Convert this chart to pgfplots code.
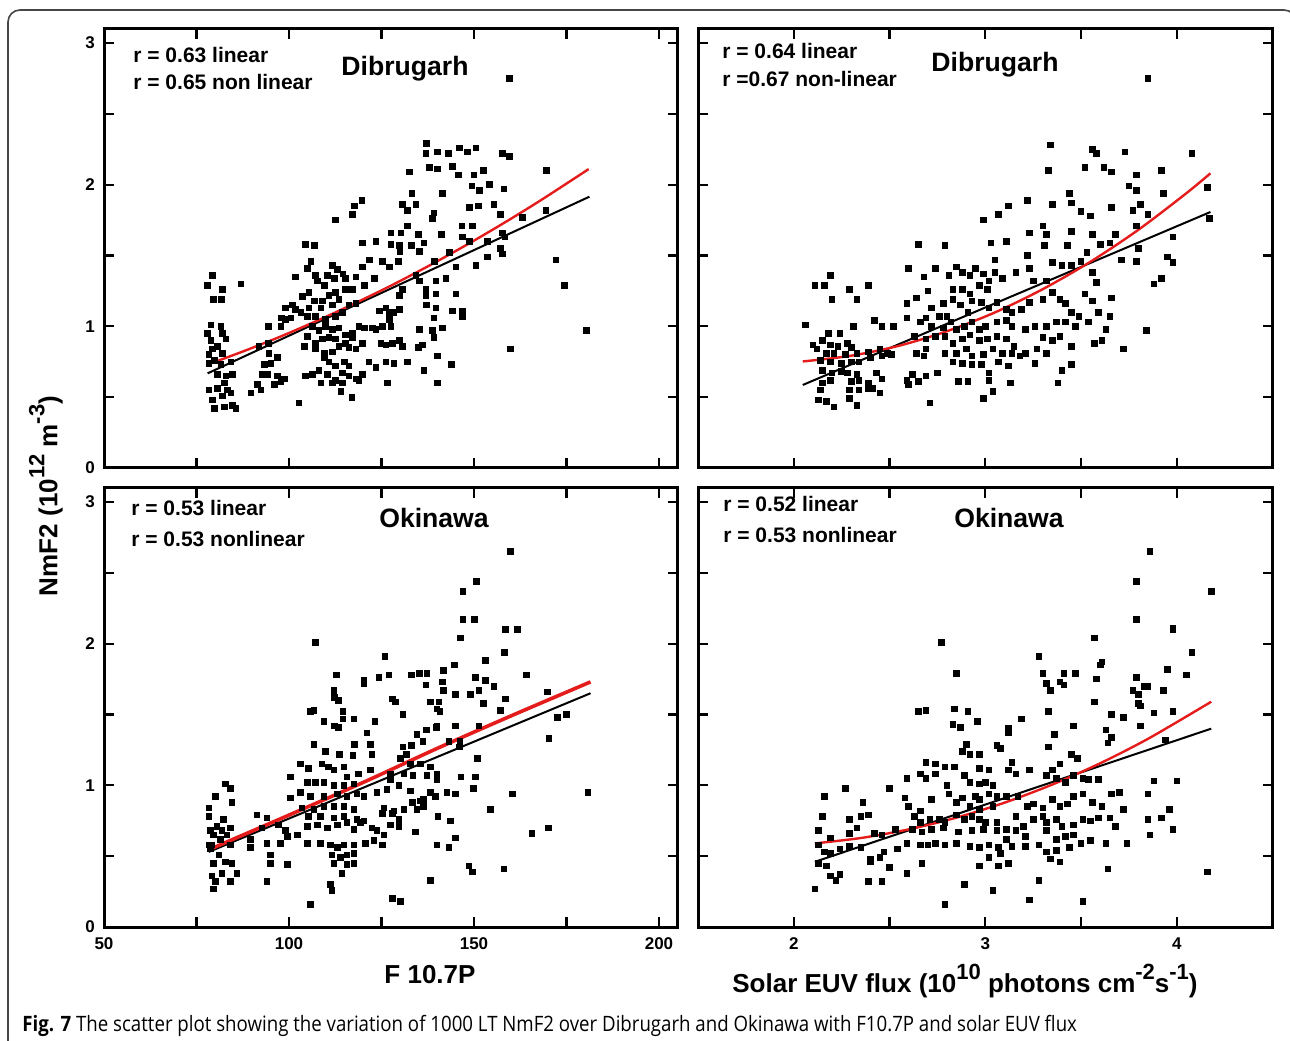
\documentclass[border=0pt]{standalone}
\usepackage{fontspec}
\setmainfont{Liberation Sans}
\newfontfamily\capfont{Open Sans}[FakeStretch=0.88]
\usepackage{pgfplots}
\pgfplotsset{compat=1.18}

\definecolor{fitred}{RGB}{228,28,28}
\definecolor{framegray}{RGB}{70,70,70}

\newcommand\sps[1]{\raisebox{0.5em}{\fontsize{11}{13}\selectfont #1}}

\pgfplotsset{
  panel/.style={
    scale only axis, anchor=south west, height=219.6pt,
    ymin=0, ymax=3.1, ytick={0,1,2,3}, minor ytick={0.5,1.5,2.5},
    tick align=inside, major tick length=5pt, minor tick length=5pt,
    major tick style={line width=1.1pt, black},
    minor tick style={line width=1.1pt, black},
    axis line style={line width=1.5pt},
    tick label style={font=\bfseries\fontsize{8.5}{10}\selectfont},
    /pgf/number format/assume math mode=true,
    xticklabel style={yshift=-2pt},
    yticklabel style={xshift=-1pt},
  },
  f107/.style={xmin=50, xmax=205, width=286.75pt,
    xtick={50,100,150,200}, minor xtick={75,125,175}},
  euv/.style={xmin=1.5, xmax=4.5, width=287.25pt,
    xtick={2,3,4}, minor xtick={2.5,3.5}},
  pts/.style={only marks, mark=square*, mark size=1.4pt, mark options={black}},
  linfit/.style={black, line width=1pt, no marks},
  nlfit/.style={fitred, line width=1.2pt, no marks, smooth},
}

\begin{document}
\begin{tikzpicture}
% ---------------- Dibrugarh, F10.7P ----------------
\begin{axis}[panel, f107, at={(52pt,286pt)}, xticklabels={}]
\addplot[pts] coordinates {
(159.5,2.75)(137.2,2.29)(137.0,2.22)(140.1,2.23)(143.1,2.22)(146.0,2.26)(148.2,2.23)(150.5,2.26)(157.7,2.22)(159.5,2.20)
(169.6,2.10)(132.5,2.09)(137.9,2.12)(140.1,2.11)(144.2,2.13)(145.8,2.07)(150.0,2.07)(152.5,2.10)(149.4,1.99)(151.4,1.96)
(154.1,2.00)(158.1,1.97)(133.2,1.94)(141.5,1.94)(130.7,1.86)(132.0,1.82)(134.3,1.86)(139.2,1.80)(138.8,1.76)(148.7,1.84)
(151.2,1.85)(155.4,1.86)(157.2,1.79)(163.1,1.77)(169.4,1.82)(119.7,1.89)(117.6,1.85)(117.1,1.79)(112.6,1.75)(132.0,1.71)
(127.5,1.66)(130.2,1.66)(135.0,1.65)(141.2,1.65)(146.7,1.71)(149.6,1.71)(146.9,1.63)(119.8,1.59)(123.5,1.60)(127.5,1.58)
(129.8,1.57)(130.0,1.53)(133.1,1.57)(135.2,1.53)(136.5,1.59)(143.3,1.52)(148.7,1.60)(153.6,1.60)(157.7,1.66)(158.4,1.63)
(104.5,1.58)(106.8,1.57)(121.7,1.47)(125.3,1.46)(127.1,1.42)(129.5,1.46)(139.3,1.46)(145.1,1.42)(150.5,1.43)(153.6,1.49)
(157.2,1.55)(157.7,1.51)(172.1,1.47)(174.4,1.29)(105.9,1.46)(105.0,1.41)(101.8,1.35)(107.2,1.36)(107.7,1.32)(111.7,1.43)
(113.1,1.40)(114.6,1.37)(115.3,1.34)(118.1,1.35)(119.8,1.42)(123.0,1.34)(120.3,1.29)(117.1,1.26)(115.3,1.26)(112.2,1.34)
(110.4,1.36)(109.5,1.29)(139.7,1.32)(142.4,1.34)(135.2,1.32)(134.3,1.36)(137.0,1.26)(139.7,1.23)(145.1,1.23)(129.8,1.22)
(130.7,1.26)(79.3,1.36)(78.0,1.29)(82.0,1.26)(87.0,1.30)(79.5,1.19)(81.8,1.19)(103.6,1.21)(105.4,1.24)(106.8,1.18)
(109.0,1.18)(110.8,1.22)(112.6,1.24)(113.5,1.19)(111.7,1.15)(108.6,1.13)(105.4,1.13)(103.2,1.10)(100.9,1.15)(99.1,1.13)
(98.0,1.06)(100.5,1.06)(101.8,1.12)(105.0,1.07)(107.2,1.07)(109.9,1.05)(112.6,1.07)(114.4,1.10)(116.2,1.15)(118.1,1.16)
(124.4,1.11)(126.2,1.13)(127.1,1.10)(128.4,1.10)(129.8,1.12)(127.1,1.05)(127.5,1.00)(125.3,1.00)(137.0,1.22)(137.1,1.15)
(139.7,1.13)(144.2,1.11)(146.9,1.11)(146.9,1.07)(139.2,1.06)(94.4,1.00)(97.8,1.00)(99.1,1.05)(106.3,1.00)(108.1,0.97)
(109.9,1.00)(111.7,0.98)(113.5,0.99)(115.3,0.94)(117.1,0.95)(118.9,1.00)(120.3,0.99)(122.5,0.99)(123.5,0.98)(117.1,0.92)
(115.3,0.88)(112.6,0.91)(110.8,0.92)(109.0,0.91)(107.2,0.88)(105.0,0.93)(104.1,0.86)(107.2,0.84)(109.5,0.81)(111.7,0.82)
(113.5,0.86)(116.2,0.85)(118.1,0.84)(119.8,0.88)(124.8,0.88)(126.2,0.87)(128.0,0.88)(129.8,0.90)(130.7,0.86)(135.2,0.98)
(136.1,0.87)(135.0,0.85)(139.2,0.92)(141.5,0.99)(138.8,0.97)(121.6,0.75)(123.5,0.71)(126.2,0.75)(128.4,0.74)(132.0,0.75)
(136.5,0.69)(140.1,0.79)(143.9,0.73)(159.9,0.84)(180.4,0.97)(109.5,0.78)(110.8,0.75)(114.9,0.75)(116.2,0.72)(112.6,0.72)
(108.1,0.69)(110.4,0.66)(112.6,0.62)(114.4,0.67)(116.2,0.65)(118.1,0.63)(118.9,0.62)(119.8,0.66)(104.5,0.65)(106.3,0.66)
(108.6,0.60)(111.7,0.60)(114.4,0.60)(114.0,0.54)(117.0,0.50)(102.7,0.46)(126.6,0.60)(140.1,0.60)(94.4,0.88)(91.9,0.86)
(94.6,0.81)(93.3,0.73)(95.1,0.74)(96.9,0.78)(94.2,0.66)(92.8,0.66)(96.9,0.65)(98.7,0.63)(97.8,0.61)(96.0,0.59)
(91.5,0.59)(89.7,0.53)(92.4,0.55)(78.9,1.01)(81.6,1.00)(78.0,0.95)(82.0,0.95)(82.9,0.91)(78.9,0.90)(80.7,0.86)
(79.3,0.84)(78.4,0.80)(82.0,0.81)(79.8,0.76)(84.3,0.75)(78.4,0.74)(81.6,0.73)(80.7,0.66)(82.9,0.65)(84.7,0.66)
(82.5,0.60)(78.4,0.55)(80.7,0.56)(83.4,0.55)(84.3,0.53)(79.3,0.48)(82.0,0.51)(84.7,0.44)(79.8,0.42)(82.5,0.43)(85.6,0.42)
};
\addplot[linfit] coordinates {(78,0.668)(181.2,1.915)};
\addplot[nlfit] coordinates {(78,0.73)(88,0.827)(98,0.931)(108,1.044)(118,1.165)(128,1.293)(138,1.430)(148,1.575)(158,1.728)(168,1.889)(181,2.11)};
\end{axis}

% ---------------- Dibrugarh, solar EUV ----------------
\begin{axis}[panel, euv, at={(349pt,286pt)}, xticklabels={}, yticklabels={}]
\addplot[pts] coordinates {
(3.85,2.75)(3.34,2.28)(3.33,2.10)(3.56,2.25)(3.58,2.22)(3.52,2.12)(3.62,2.12)(3.66,2.09)(3.73,2.23)(3.79,2.07)
(3.92,2.10)(4.08,2.22)(3.75,1.99)(3.79,1.96)(4.16,1.98)(3.93,1.94)(3.44,1.94)(3.45,1.87)(3.50,1.81)(3.55,1.78)
(3.35,1.86)(3.22,1.89)(3.12,1.85)(3.07,1.79)(2.99,1.75)(3.66,1.84)(3.77,1.82)(3.81,1.86)(3.85,1.79)(3.79,1.71)
(3.23,1.66)(3.30,1.71)(3.32,1.65)(3.31,1.57)(3.45,1.67)(3.43,1.57)(3.56,1.65)(3.60,1.58)(3.65,1.59)(3.68,1.65)
(3.71,1.47)(3.79,1.46)(3.80,1.55)(3.95,1.49)(3.98,1.45)(3.98,1.63)(4.17,1.76)(3.53,1.52)(2.65,1.58)(2.79,1.57)
(3.03,1.59)(3.11,1.60)(3.05,1.47)(3.22,1.50)(3.35,1.45)(3.40,1.43)(3.45,1.43)(3.50,1.46)(3.56,1.38)(3.58,1.31)
(3.52,1.23)(3.56,1.18)(3.66,1.20)(3.88,1.30)(3.92,1.34)(3.84,0.97)(3.72,0.84)
(2.60,1.41)(2.68,1.35)(2.74,1.41)(2.81,1.36)(2.85,1.42)(2.88,1.38)(2.92,1.36)(2.95,1.41)(2.99,1.37)(3.02,1.32)
(3.05,1.38)(3.09,1.34)(3.16,1.38)(3.23,1.41)(3.25,1.32)(3.32,1.32)(2.64,1.20)(2.70,1.25)(2.59,1.16)(2.72,1.13)
(2.78,1.16)(2.83,1.26)(2.88,1.26)(2.92,1.23)(2.97,1.29)(3.01,1.26)(2.83,1.19)(2.87,1.15)(2.91,1.10)(2.93,1.18)
(2.98,1.17)(3.02,1.13)(3.06,1.17)(3.11,1.12)(3.14,1.10)(3.19,1.12)(3.23,1.17)(3.30,1.19)(3.35,1.24)(3.39,1.19)
(3.42,1.16)(3.45,1.10)(3.49,1.07)(2.59,1.06)(2.66,1.03)(2.69,1.06)(2.76,1.07)(2.80,1.07)(2.72,1.00)(2.78,0.99)
(2.82,1.03)(2.85,0.98)(2.89,1.00)(2.93,1.03)(2.97,0.98)(3.00,1.00)(3.06,1.03)(3.11,1.04)(3.14,1.00)(3.21,0.98)
(3.26,1.00)(3.32,1.00)(3.37,1.03)(3.42,1.03)(3.47,1.00)(3.54,1.03)(3.59,1.10)(3.65,1.07)(3.63,0.98)(2.63,0.93)
(2.69,0.91)(2.74,0.93)(2.79,0.93)(2.83,0.88)(2.88,0.91)(2.92,0.94)(2.97,0.90)(3.01,0.91)(3.06,0.93)(3.11,0.91)
(3.15,0.86)(3.30,0.92)(3.35,0.90)(3.39,0.93)(3.45,0.86)(3.57,0.88)(3.61,0.90)(2.64,0.81)(2.69,0.84)(2.79,0.81)
(2.85,0.81)(2.90,0.84)(2.93,0.79)(2.99,0.80)(3.04,0.84)(3.09,0.81)(3.14,0.81)(3.21,0.81)(3.27,0.84)(3.32,0.81)
(2.68,0.79)(2.83,0.75)(2.88,0.74)(2.93,0.73)(2.98,0.73)(3.07,0.75)(3.12,0.72)(3.18,0.79)(3.26,0.74)(3.40,0.69)
(3.45,0.73)(3.02,0.67)(3.02,0.62)(2.99,0.49)(3.04,0.54)(3.13,0.60)(2.91,0.61)(2.86,0.61)(2.71,0.46)(3.38,0.60)
(2.75,0.67)(2.69,0.65)(2.65,0.61)(2.59,0.62)(2.60,0.59)(2.62,0.66)
(2.06,1.01)(2.11,1.29)(2.16,1.29)(2.19,1.36)(2.20,1.19)(2.29,1.26)(2.33,1.19)(2.39,1.29)(2.18,0.95)(2.24,0.95)
(2.31,1.00)(2.42,1.04)(2.46,1.00)(2.52,1.00)(2.10,0.87)(2.15,0.90)(2.19,0.87)(2.23,0.86)(2.28,0.88)(2.30,0.85)
(2.12,0.84)(2.17,0.81)(2.21,0.81)(2.27,0.80)(2.33,0.81)(2.39,0.82)(2.45,0.84)(2.49,0.81)(2.14,0.76)(2.19,0.75)
(2.25,0.74)(2.30,0.75)(2.34,0.75)(2.40,0.78)(2.46,0.79)(2.51,0.80)(2.15,0.69)(2.20,0.67)(2.25,0.68)(2.28,0.67)
(2.33,0.66)(2.43,0.67)(2.46,0.63)(2.15,0.60)(2.19,0.62)(2.30,0.61)(2.34,0.62)(2.39,0.60)(2.41,0.56)(2.14,0.55)
(2.29,0.55)(2.34,0.55)(2.45,0.53)(2.39,0.56)(2.13,0.48)(2.17,0.47)(2.21,0.43)(2.29,0.49)(2.33,0.44)
};
\addplot[linfit] coordinates {(2.047,0.586)(4.176,1.807)};
\addplot[nlfit] coordinates {(2.047,0.752)(2.297,0.792)(2.547,0.862)(2.797,0.964)(3.047,1.096)(3.297,1.260)(3.547,1.454)(3.797,1.679)(4.047,1.936)(4.176,2.08)};
\end{axis}

% ---------------- Okinawa, F10.7P ----------------
\begin{axis}[panel, f107, at={(52pt,56.5pt)}]
\addplot[pts] coordinates {
(159.9,2.65)(150.6,2.44)(147.0,2.37)(147.0,2.17)(150.1,2.17)(146.3,2.04)(158.5,2.10)(161.7,2.10)(158.2,1.94)(107.1,2.01)
(125.9,1.91)(112.8,1.78)(120.2,1.74)(120.2,1.72)(124.3,1.76)(127.0,1.78)(133.1,1.78)(135.3,1.79)(137.3,1.79)(141.8,1.81)
(144.7,1.85)(153.1,1.88)(164.1,1.78)(150.4,1.76)(153.1,1.74)(155.4,1.70)(137.0,1.71)(141.4,1.73)(141.8,1.67)(145.0,1.64)
(149.0,1.64)(151.3,1.67)(152.5,1.58)(158.5,1.61)(157.2,1.53)(169.8,1.66)(112.1,1.67)(112.3,1.62)(113.4,1.60)(127.9,1.61)
(128.8,1.59)(138.2,1.59)(140.5,1.59)(140.0,1.54)(140.8,1.52)(105.8,1.52)(106.7,1.53)(109.4,1.45)(112.3,1.42)(113.4,1.41)
(114.6,1.52)(114.6,1.47)(117.5,1.47)(123.2,1.45)(130.8,1.50)(121.1,1.37)(134.6,1.36)(137.1,1.39)(139.8,1.41)(140.0,1.42)
(145.0,1.42)(151.3,1.42)(172.5,1.48)(174.9,1.50)(170.2,1.33)(106.7,1.29)(109.8,1.24)(113.7,1.22)(117.7,1.29)(117.3,1.21)
(122.0,1.29)(122.4,1.22)(130.8,1.27)(131.7,1.22)(133.1,1.28)(136.2,1.31)(143.2,1.31)(146.2,1.31)(146.1,1.27)(150.9,1.19)
(130.1,1.19)(132.8,1.15)(135.5,1.15)(138.2,1.13)(140.0,1.08)(103.1,1.15)(105.3,1.12)(108.9,1.15)(110.7,1.13)(112.1,1.11)
(114.8,1.13)(115.7,1.06)(118.8,1.08)(122.0,1.11)(127.4,1.08)(131.0,1.08)(133.5,1.07)(137.3,1.07)(140.0,1.04)(146.5,1.06)
(150.4,1.06)(149.9,0.98)(100.4,1.06)(104.9,1.02)(107.1,1.02)(109.4,1.02)(112.1,1.00)(114.8,1.00)(117.5,1.01)(100.4,0.91)
(103.1,0.95)(105.8,0.92)(109.4,0.92)(113.0,0.94)(115.7,0.92)(118.4,0.94)(120.2,0.92)(123.8,0.95)(126.5,0.97)(127.4,1.04)
(129.7,1.00)(132.8,0.96)(135.5,0.89)(138.2,0.95)(139.6,0.92)(142.7,0.95)(145.0,0.94)(160.3,0.94)(180.8,0.95)(103.5,0.84)
(106.7,0.83)(109.4,0.85)(112.1,0.85)(114.8,0.85)(117.5,0.83)(125.6,0.84)(128.3,0.82)(131.0,0.83)(133.3,0.88)(134.6,0.83)
(136.4,0.90)(105.3,0.78)(108.5,0.78)(112.1,0.77)(114.8,0.78)(118.4,0.76)(120.2,0.75)(125.2,0.80)(127.9,0.80)(129.7,0.76)
(136.4,0.85)(140.2,0.78)(143.6,0.75)(154.5,0.83)(170.1,0.70)(165.7,0.66)(104.9,0.71)(107.6,0.72)(110.3,0.70)(113.0,0.72)
(115.7,0.74)(117.5,0.69)(119.3,0.74)(122.4,0.70)(123.8,0.68)(125.6,0.65)(127.4,0.72)(129.7,0.71)(134.2,0.67)(145.0,0.63)
(143.2,0.56)(140.0,0.58)(104.9,0.59)(108.5,0.59)(111.2,0.58)(113.0,0.56)(114.8,0.58)(117.5,0.58)(120.6,0.59)(122.9,0.61)
(125.2,0.58)(91.3,0.79)(94.0,0.77)(92.7,0.70)(97.2,0.72)(99.0,0.68)(99.5,0.64)(102.2,0.65)(89.5,0.62)(94.0,0.59)
(97.6,0.59)(94.9,0.51)(94.9,0.45)(99.5,0.44)(94.0,0.32)(89.5,0.56)(111.6,0.51)(113.9,0.49)(115.7,0.51)(117.5,0.52)
(112.1,0.45)(115.7,0.44)(117.5,0.45)(114.3,0.38)(111.2,0.30)(111.6,0.26)(105.8,0.16)(128.0,0.20)(130.1,0.18)(138.2,0.33)
(148.6,0.43)(149.5,0.39)(158.1,0.41)
(82.8,1.01)(84.1,0.98)(80.1,0.92)(84.6,0.88)(78.3,0.84)(78.3,0.78)(82.3,0.76)(80.5,0.71)(78.7,0.68)(81.9,0.68)
(84.1,0.70)(79.6,0.65)(83.2,0.65)(81.4,0.62)(79.2,0.58)(84.1,0.58)(78.7,0.55)(81.0,0.51)(82.8,0.46)(84.6,0.45)
(79.6,0.45)(85.9,0.38)(81.9,0.38)(79.2,0.36)(80.1,0.32)(84.1,0.32)(79.6,0.27)(78.3,0.58)
};
\addplot[linfit] coordinates {(78.3,0.53)(181.5,1.65)};
\addplot[nlfit, line width=1.8pt] coordinates {(78.3,0.545)(100,0.79)(120,1.02)(140,1.26)(160,1.49)(181.5,1.73)};
\end{axis}

% ---------------- Okinawa, solar EUV ----------------
\begin{axis}[panel, euv, at={(349pt,56.5pt)}, yticklabels={}]
\addplot[pts] coordinates {
(3.86,2.65)(3.79,2.44)(4.18,2.37)(3.79,2.17)(3.98,2.11)(3.98,2.10)(2.77,2.01)(3.57,2.04)(4.08,1.94)(3.61,1.87)
(3.60,1.85)(2.85,1.79)(3.28,1.91)(3.30,1.79)(3.41,1.79)(3.47,1.79)(3.32,1.72)(3.39,1.73)(3.41,1.71)(3.34,1.67)
(3.58,1.75)(4.05,1.78)(3.95,1.82)(3.79,1.76)(3.83,1.70)(3.85,1.70)(3.93,1.67)(3.77,1.67)(3.80,1.64)(3.80,1.58)
(3.81,1.56)(3.57,1.59)(2.65,1.52)(2.69,1.53)(2.84,1.54)(2.91,1.52)(2.83,1.43)(2.87,1.41)(2.96,1.45)(3.19,1.47)
(3.33,1.52)(3.46,1.42)(3.66,1.50)(3.72,1.48)(3.88,1.51)(3.98,1.52)(3.81,1.42)(3.63,1.39)(3.66,1.34)(3.64,1.30)
(3.36,1.36)(3.12,1.40)(3.12,1.37)(3.33,1.27)(2.90,1.29)(3.06,1.28)(3.08,1.26)(3.94,1.32)(2.88,1.24)(2.92,1.22)
(2.97,1.22)(3.45,1.22)(3.48,1.19)(2.69,1.16)(2.74,1.15)(2.79,1.13)(2.84,1.13)(2.97,1.12)(3.02,1.11)(3.14,1.16)
(3.12,1.11)(3.16,1.08)(3.23,1.11)(3.35,1.11)(3.39,1.15)(3.32,1.07)(3.37,1.05)(3.42,1.02)(3.46,1.07)(3.51,1.05)
(3.54,1.04)(3.59,1.04)(3.88,1.03)(4.00,1.03)(3.85,0.94)(2.59,1.05)(2.66,1.08)(2.69,1.05)(2.74,1.08)(2.89,1.07)
(2.92,1.02)(2.97,1.01)(3.00,1.02)(3.04,1.00)(2.27,0.98)(2.50,0.98)(2.16,0.92)(2.36,0.88)(2.58,0.91)(2.60,0.85)
(2.66,0.82)(2.72,0.90)(2.80,1.00)(2.81,0.94)(2.85,0.88)(2.88,0.91)(2.92,0.85)(2.95,0.92)(2.97,0.90)(3.02,0.94)
(3.06,0.92)(2.97,0.83)(3.04,0.85)(3.11,0.92)(3.17,0.92)(3.22,0.85)(3.25,0.87)(3.30,0.84)(3.35,0.90)(3.39,0.85)
(3.43,0.87)(3.46,0.92)(3.51,0.94)(3.56,0.88)(3.61,0.85)(3.66,0.94)(3.70,0.95)(3.72,0.83)(3.85,0.76)(3.96,0.83)
(3.98,0.69)(3.92,0.77)(3.86,0.65)(2.15,0.78)(2.29,0.76)(2.35,0.78)(2.39,0.79)(2.13,0.68)(2.19,0.63)(2.29,0.66)
(2.33,0.70)(2.42,0.66)(2.46,0.65)(2.53,0.69)(2.63,0.78)(2.66,0.74)(2.71,0.76)(2.76,0.76)(2.79,0.74)(2.85,0.79)
(2.89,0.76)(2.93,0.78)(2.97,0.76)(3.00,0.74)(3.06,0.74)(3.11,0.69)(3.16,0.78)(3.20,0.71)(3.25,0.76)(3.30,0.78)
(3.32,0.74)(3.37,0.76)(3.40,0.71)(3.46,0.72)(3.51,0.76)(3.55,0.75)(3.59,0.77)(3.65,0.77)(3.68,0.71)(2.62,0.69)
(2.67,0.67)(2.72,0.69)(2.78,0.70)(2.86,0.67)(2.93,0.68)(2.99,0.69)(3.06,0.68)(3.11,0.62)(3.16,0.68)(3.21,0.64)
(3.32,0.68)(3.37,0.62)(3.42,0.64)(3.46,0.65)(3.50,0.59)(3.55,0.61)(3.63,0.59)(3.74,0.59)(2.13,0.58)(2.16,0.53)
(2.19,0.52)(2.24,0.55)(2.29,0.57)(2.35,0.56)(2.40,0.48)(2.45,0.49)(2.47,0.53)(2.54,0.55)(2.59,0.59)(2.66,0.58)
(2.70,0.58)(2.74,0.59)(2.79,0.58)(2.85,0.59)(2.92,0.57)(2.97,0.56)(3.02,0.58)(3.07,0.56)(3.14,0.57)(3.21,0.57)
(3.28,0.58)(3.32,0.53)(3.37,0.54)(3.44,0.56)(3.08,0.52)(3.12,0.45)(3.02,0.49)(3.07,0.43)(2.97,0.43)(2.67,0.45)
(2.59,0.38)(2.50,0.42)(2.40,0.46)(2.13,0.45)(2.17,0.43)(2.22,0.33)(2.19,0.36)(2.24,0.37)(2.11,0.27)(2.39,0.32)
(2.46,0.32)(2.89,0.30)(3.04,0.26)(3.23,0.19)(3.28,0.33)(3.51,0.18)(3.64,0.41)(4.16,0.39)(2.79,0.16)(3.39,0.46)
(3.34,0.48)
};
\addplot[linfit] coordinates {(2.11,0.46)(4.18,1.40)};
\addplot[nlfit] coordinates {(2.11,0.59)(2.36,0.630)(2.61,0.692)(2.86,0.776)(3.11,0.882)(3.36,1.011)(3.61,1.162)(3.86,1.336)(4.18,1.59)};
\end{axis}

% ---------------- panel annotations ----------------
\begin{scope}[every node/.style={inner sep=0pt, font=\bfseries\fontsize{10.5}{12}\selectfont}]
\node[anchor=base west] at (66.5pt,488.5pt) {r = 0.63 linear};
\node[anchor=base west] at (66.5pt,475pt) {r = 0.65 non linear};
\node[anchor=base west] at (361pt,490.5pt) {r = 0.64 linear};
\node[anchor=base west] at (361pt,476.5pt) {r =0.67 non-linear};
\node[anchor=base west] at (65.5pt,262pt) {r = 0.53 linear};
\node[anchor=base west] at (65.5pt,246.5pt) {r = 0.53 nonlinear};
\node[anchor=base west] at (361.5pt,264pt) {r = 0.52 linear};
\node[anchor=base west] at (361.5pt,248.5pt) {r = 0.53 nonlinear};
\end{scope}
\begin{scope}[every node/.style={inner sep=0pt, anchor=base, font=\bfseries\fontsize{13.3}{15}\selectfont}]
\node at (202.5pt,482pt) {Dibrugarh};
\node at (497.5pt,484pt) {Dibrugarh};
\node at (217pt,256pt) {Okinawa};
\node at (504.5pt,256pt) {Okinawa};
\end{scope}

% ---------------- axis titles ----------------
\begin{scope}[every node/.style={inner sep=0pt, font=\bfseries\fontsize{13}{15}\selectfont}]
\node[rotate=90, anchor=center] at (23pt,272pt) {NmF2 (10\sps{12} m\sps{-3})};
\node[anchor=base] at (215pt,28.5pt) {F 10.7P};
\node[anchor=base] at (482.5pt,24pt) {Solar EUV flux (10\sps{10} photons cm\sps{-2}s\sps{-1})};
\end{scope}

% ---------------- caption and frame ----------------
\node[anchor=base west, inner sep=0pt, font=\capfont\fontsize{10.6}{12}\selectfont]
  at (11pt,4.5pt) {\textbf{Fig. 7} The scatter plot showing the variation of 1000 LT NmF2 over Dibrugarh and Okinawa with F10.7P and solar EUV flux};
\draw[framegray, line width=0.8pt, rounded corners=6pt] (4pt,-8pt) rectangle (648pt,515pt);

\pgfresetboundingbox
\useasboundingbox (0pt,0pt) rectangle (645pt,520pt);
\end{tikzpicture}
\end{document}
